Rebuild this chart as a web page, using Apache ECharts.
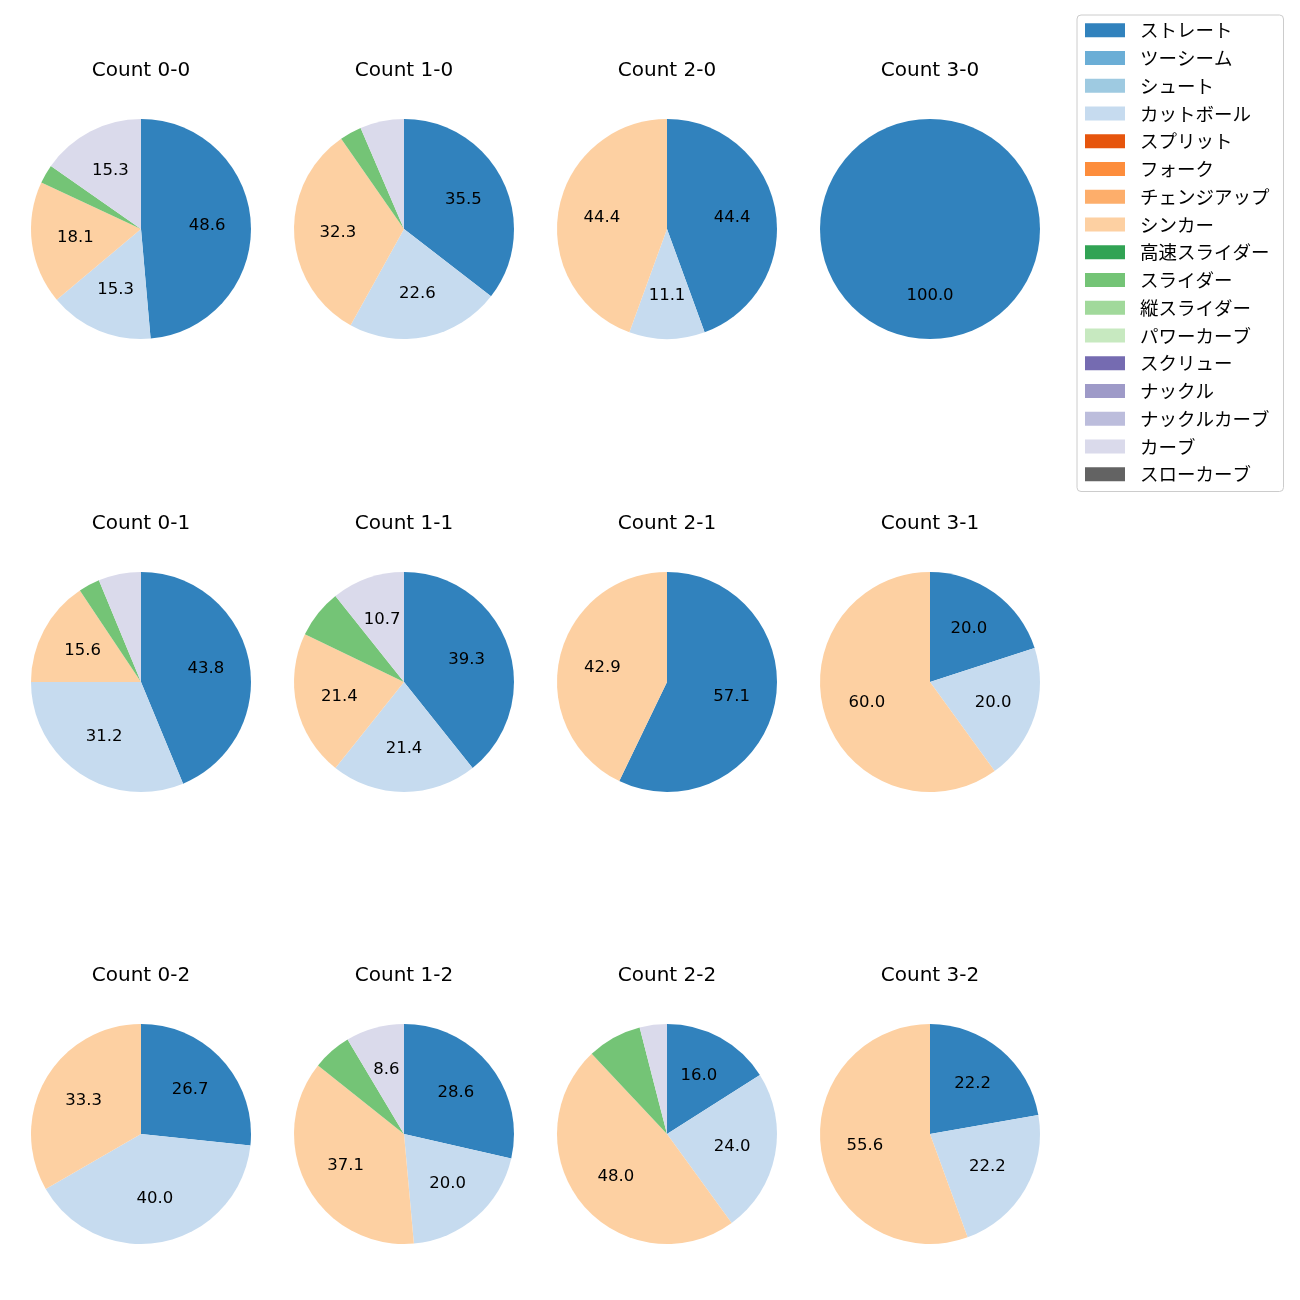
<!DOCTYPE html>
<html>
<head>
<meta charset="utf-8">
<script src="https://cdn.jsdelivr.net/npm/echarts@6/dist/echarts.min.js"></script>
<style>html,body{margin:0;padding:0;background:#fff;}#c{width:1300px;height:1300px;}</style>
</head>
<body>
<div id="c"></div>
<script>
// Pitch type categories (legend order)
const categories = ['ストレート','ツーシーム','シュート','カットボール','スプリット','フォーク','チェンジアップ','シンカー','高速スライダー','スライダー','縦スライダー','パワーカーブ','スクリュー','ナックル','ナックルカーブ','カーブ','スローカーブ'];
const colors = ['#3182bd','#6baed6','#9ecae1','#c6dbef','#e6550d','#fd8d3c','#fdae6b','#fdd0a2','#31a354','#74c476','#a1d99b','#c7e9c0','#756bb1','#9e9ac8','#bcbddc','#dadaeb','#636363'];

// Pitch counts per ball-strike count, keyed by pitch type
const count00 = {'ストレート':35,'カットボール':11,'シンカー':13,'スライダー':2,'カーブ':11};
const count10 = {'ストレート':11,'カットボール':7,'シンカー':10,'スライダー':1,'カーブ':2};
const count20 = {'ストレート':4,'カットボール':1,'シンカー':4};
const count30 = {'ストレート':1};
const count01 = {'ストレート':14,'カットボール':10,'シンカー':5,'スライダー':1,'カーブ':2};
const count11 = {'ストレート':11,'カットボール':6,'シンカー':6,'スライダー':2,'カーブ':3};
const count21 = {'ストレート':4,'シンカー':3};
const count31 = {'ストレート':1,'カットボール':1,'シンカー':3};
const count02 = {'ストレート':4,'カットボール':6,'シンカー':5};
const count12 = {'ストレート':10,'カットボール':7,'シンカー':13,'スライダー':2,'カーブ':3};
const count22 = {'ストレート':4,'カットボール':6,'シンカー':12,'スライダー':2,'カーブ':1};
const count32 = {'ストレート':2,'カットボール':2,'シンカー':5};

const panels = [
  {title:'Count 0-0', data:count00}, {title:'Count 1-0', data:count10}, {title:'Count 2-0', data:count20}, {title:'Count 3-0', data:count30},
  {title:'Count 0-1', data:count01}, {title:'Count 1-1', data:count11}, {title:'Count 2-1', data:count21}, {title:'Count 3-1', data:count31},
  {title:'Count 0-2', data:count02}, {title:'Count 1-2', data:count12}, {title:'Count 2-2', data:count22}, {title:'Count 3-2', data:count32}
];

const LATIN = '"DejaVu Sans", "Noto Sans", sans-serif';
const CJK = '"Noto Sans CJK JP", "Noto Sans", sans-serif';
const colX = [141, 404, 667, 930];
const rowY = [229, 682, 1134];
const titleY = [61, 514, 966];
const R = 110;

// one-decimal formatting with round-half-to-even on exact halves (like Python's '%.1f')
function fmt1(p) {
  const x = p * 10;
  const f = Math.floor(x);
  let r;
  if (Math.abs(x - f - 0.5) < 1e-9) r = (f % 2 === 0) ? f : f + 1;
  else r = Math.round(x);
  return (r / 10).toFixed(1);
}

const chart = echarts.init(document.getElementById('c'), null, {renderer:'canvas'});
const titles = [];
const series = [];
panels.forEach((p, i) => {
  const col = i % 4, row = Math.floor(i / 4);
  const cx = colX[col], cy = rowY[row];
  const total = categories.reduce((s, c) => s + (p.data[c] || 0), 0);
  const data = categories.map((c, k) => ({name:c, value:p.data[c] || 0, itemStyle:{color:colors[k]}}));
  titles.push({
    text: p.title, left: cx, top: titleY[row], textAlign: 'center', padding:0,
    textStyle: {fontFamily: LATIN, fontSize: 20, fontWeight: 'normal', color: '#000'}
  });
  series.push({
    type:'pie', center:[cx, cy], radius:[0, R], startAngle:90, clockwise:true,
    avoidLabelOverlap:false, silent:true, label:{show:false}, labelLine:{show:false},
    itemStyle:{borderWidth:0}, emphasis:{disabled:true}, animation:false,
    data: data
  });
  series.push({
    type:'pie', center:[cx, cy], radius:[R*0.15, R], startAngle:90, clockwise:true,
    avoidLabelOverlap:false, silent:true, animation:false, emphasis:{disabled:true},
    labelLine:{show:false},
    itemStyle:{color:'rgba(0,0,0,0)', borderWidth:0},
    label:{
      show:true, position:'inside', color:'#000', fontFamily:LATIN, fontSize:16.5,
      formatter: (prm) => { const pct = prm.value / total * 100; return pct > 8 ? fmt1(pct) : ''; }
    },
    data: data.map(d => ({name:d.name, value:d.value}))
  });
});

chart.setOption({
  backgroundColor:'#fff',
  animation:false,
  color: colors,
  title: titles,
  legend: {
    orient:'vertical', left:1077, top:15,
    data: categories,
    selectedMode:false,
    icon:'rect', itemWidth:40, itemHeight:14, itemGap:9.25,
    padding:[6, 14, 8, 8],
    borderColor:'#cccccc', borderWidth:1, borderRadius:4,
    textStyle:{fontFamily:CJK, fontSize:18.5, color:'#000', lineHeight:18, padding:[0,0,0,10]}
  },
  series: series
});
</script>
</body>
</html>
